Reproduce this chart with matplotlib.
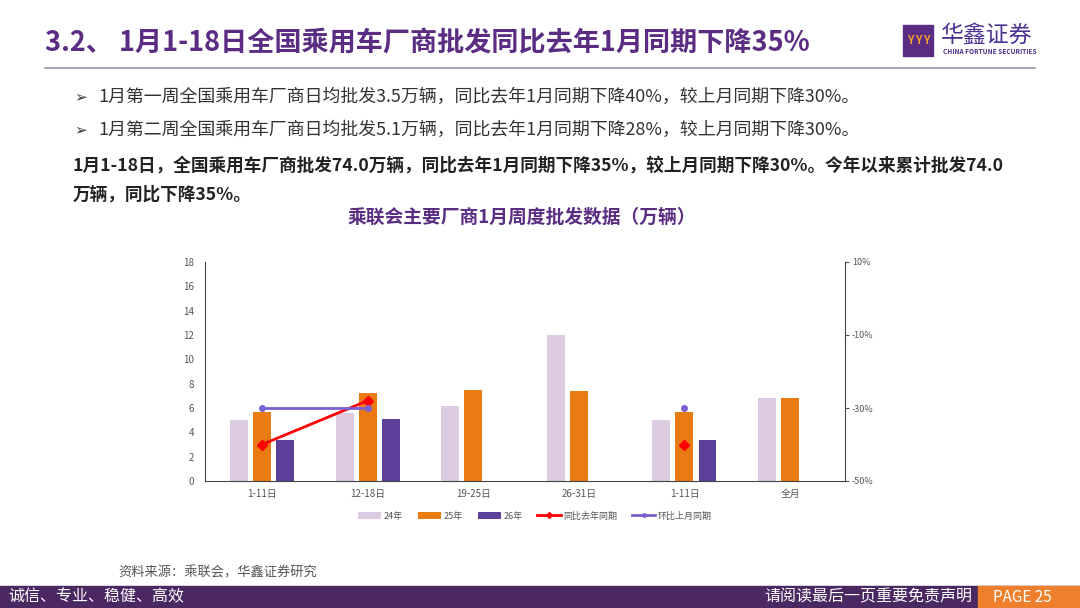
import matplotlib
matplotlib.use("Agg")
import matplotlib.pyplot as plt
import numpy as np
from matplotlib.patches import Rectangle

plt.rcParams["font.family"] = ["Noto Sans CJK SC", "DejaVu Sans"]

# 数据（万辆 / 同比环比 %）
periods = ["1-11日", "12-18日", "19-25日", "26-31日", "1-11日", "全月"]
sales_24 = [5.0, 5.6, 6.2, 12.0, 5.0, 6.8]
sales_25 = [5.7, 7.2, 7.5, 7.4, 5.7, 6.8]
sales_26 = [3.4, 5.1, np.nan, np.nan, 3.4, np.nan]
yoy = [-40, -28, np.nan, np.nan, -40, np.nan]
mom = [-30, -30, np.nan, np.nan, -30, np.nan]
series_names = ["24年", "25年", "26年", "同比去年同期", "环比上月同期"]

PURPLE = "#5a2d82"
C24, C25, C26 = "#dccbe1", "#ea7a12", "#5c3f97"
C_YOY, C_MOM = "#ff0000", "#7b5fd3"
GRAY = "#555555"

fig = plt.figure(figsize=(10.8, 6.08), dpi=100)
W, H = 1080, 608


def fx(px):
    return px / W


def fy(py):
    return 1 - py / H


# 标题 + 分隔线
fig.text(fx(45), fy(43), "3.2、 1月1-18日全国乘用车厂商批发同比去年1月同期下降35%",
         fontsize=19.5, fontweight="heavy", color=PURPLE, va="center")
fig.add_artist(plt.Line2D([fx(45), fx(1035)], [fy(68), fy(68)], color="#9a93a8", lw=1.2))

# logo
fig.add_artist(Rectangle((fx(903), fy(56)), fx(30), 31 / H, color="#5a2d82"))
for dx in (910, 918, 926):
    fig.text(fx(dx), fy(41), "Y", fontsize=8, color="#f0a030", fontweight="bold",
             va="center", ha="center")
fig.text(fx(941), fy(36), "华鑫证券", fontsize=16.5, color="#4b3190", va="center")
fig.text(fx(943), fy(52), "CHINA FORTUNE SECURITIES", fontsize=4.7, color="#4b3190",
         va="center", fontweight="bold")

# 要点
bullets = ["1月第一周全国乘用车厂商日均批发3.5万辆，同比去年1月同期下降40%，较上月同期下降30%。",
           "1月第二周全国乘用车厂商日均批发5.1万辆，同比去年1月同期下降28%，较上月同期下降30%。"]
for yy, b in zip((97, 130), bullets):
    fig.text(fx(74), fy(yy), "➢", fontsize=11, color="#333333", va="center",
             family=["DejaVu Sans"])
    fig.text(fx(98), fy(yy), b, fontsize=12.9, color="#333333", va="center")
fig.text(fx(73), fy(165),
         "1月1-18日，全国乘用车厂商批发74.0万辆，同比去年1月同期下降35%，较上月同期下降30%。今年以来累计批发74.0",
         fontsize=12.7, fontweight="bold", color="#222222", va="center")
fig.text(fx(73), fy(194), "万辆，同比下降35%。", fontsize=12.7, fontweight="bold",
         color="#222222", va="center")
fig.text(fx(522), fy(217), "乘联会主要厂商1月周度批发数据（万辆）", fontsize=13.5,
         fontweight="bold", color=PURPLE, va="center", ha="center")

# 图表
ax = fig.add_axes([fx(205), fy(481), fx(845 - 205), (481 - 262) / H])
x = np.arange(len(periods))
w, off = 0.17, 0.218
b1 = ax.bar(x - off, sales_24, w, color=C24, label=series_names[0])
b2 = ax.bar(x, sales_25, w, color=C25, label=series_names[1])
b3 = ax.bar(x + off, sales_26, w, color=C26, label=series_names[2])
ax.set_xlim(-0.54, 5.52)
ax.set_ylim(0, 18)
ax.set_yticks(range(0, 19, 2))
ax.set_xticks(x, periods)
ax.tick_params(axis="y", labelsize=7, colors=GRAY, length=0, pad=8)
ax.tick_params(axis="x", labelsize=7, colors=GRAY, length=0, pad=6)
for s in ("top", "right"):
    ax.spines[s].set_visible(False)
ax.spines["left"].set_color("#444444")
ax.spines["bottom"].set_color("#444444")

ax2 = ax.twinx()
l1, = ax2.plot(x, yoy, color=C_YOY, lw=2, marker="D", ms=5, label=series_names[3])
l2, = ax2.plot(x, mom, color=C_MOM, lw=2, marker="o", ms=4, label=series_names[4])
ax2.set_ylim(-50, 10)
ax2.set_yticks([10, -10, -30, -50], ["10%", "-10%", "-30%", "-50%"])
ax2.tick_params(axis="y", labelsize=6.5, colors=GRAY, length=3, pad=2)
for s in ("top", "left", "bottom"):
    ax2.spines[s].set_visible(False)
ax2.spines["right"].set_color("#444444")
ax2.set_xlim(-0.54, 5.52)

leg = fig.legend([b1, b2, b3, l1, l2], series_names, loc="center",
                 bbox_to_anchor=(fx(535), fy(516)), ncol=5, frameon=False, fontsize=6.5,
                 handlelength=2.6, columnspacing=1.6, handletextpad=0.3, markerscale=0.6)
for t in leg.get_texts():
    t.set_color(GRAY)

# 来源 + 页脚
fig.text(fx(118), fy(573), "资料来源：乘联会，华鑫证券研究", fontsize=9.5, color="#555555",
         va="center")
fig.add_artist(Rectangle((0, 0), 1, 22 / H, color="#4a2862"))
fig.add_artist(Rectangle((fx(978), 0), fx(102), 22 / H, color="#ee7f2d"))
fig.text(fx(8), fy(597), "诚信、专业、稳健、高效", fontsize=11.5, color="white", va="center")
fig.text(fx(972), fy(597), "请阅读最后一页重要免责声明", fontsize=11.5, color="white",
         va="center", ha="right")
fig.text(fx(1022), fy(597), "PAGE 25", fontsize=11, color="white", va="center",
         ha="center")

fig.savefig("out.png", dpi=100)
